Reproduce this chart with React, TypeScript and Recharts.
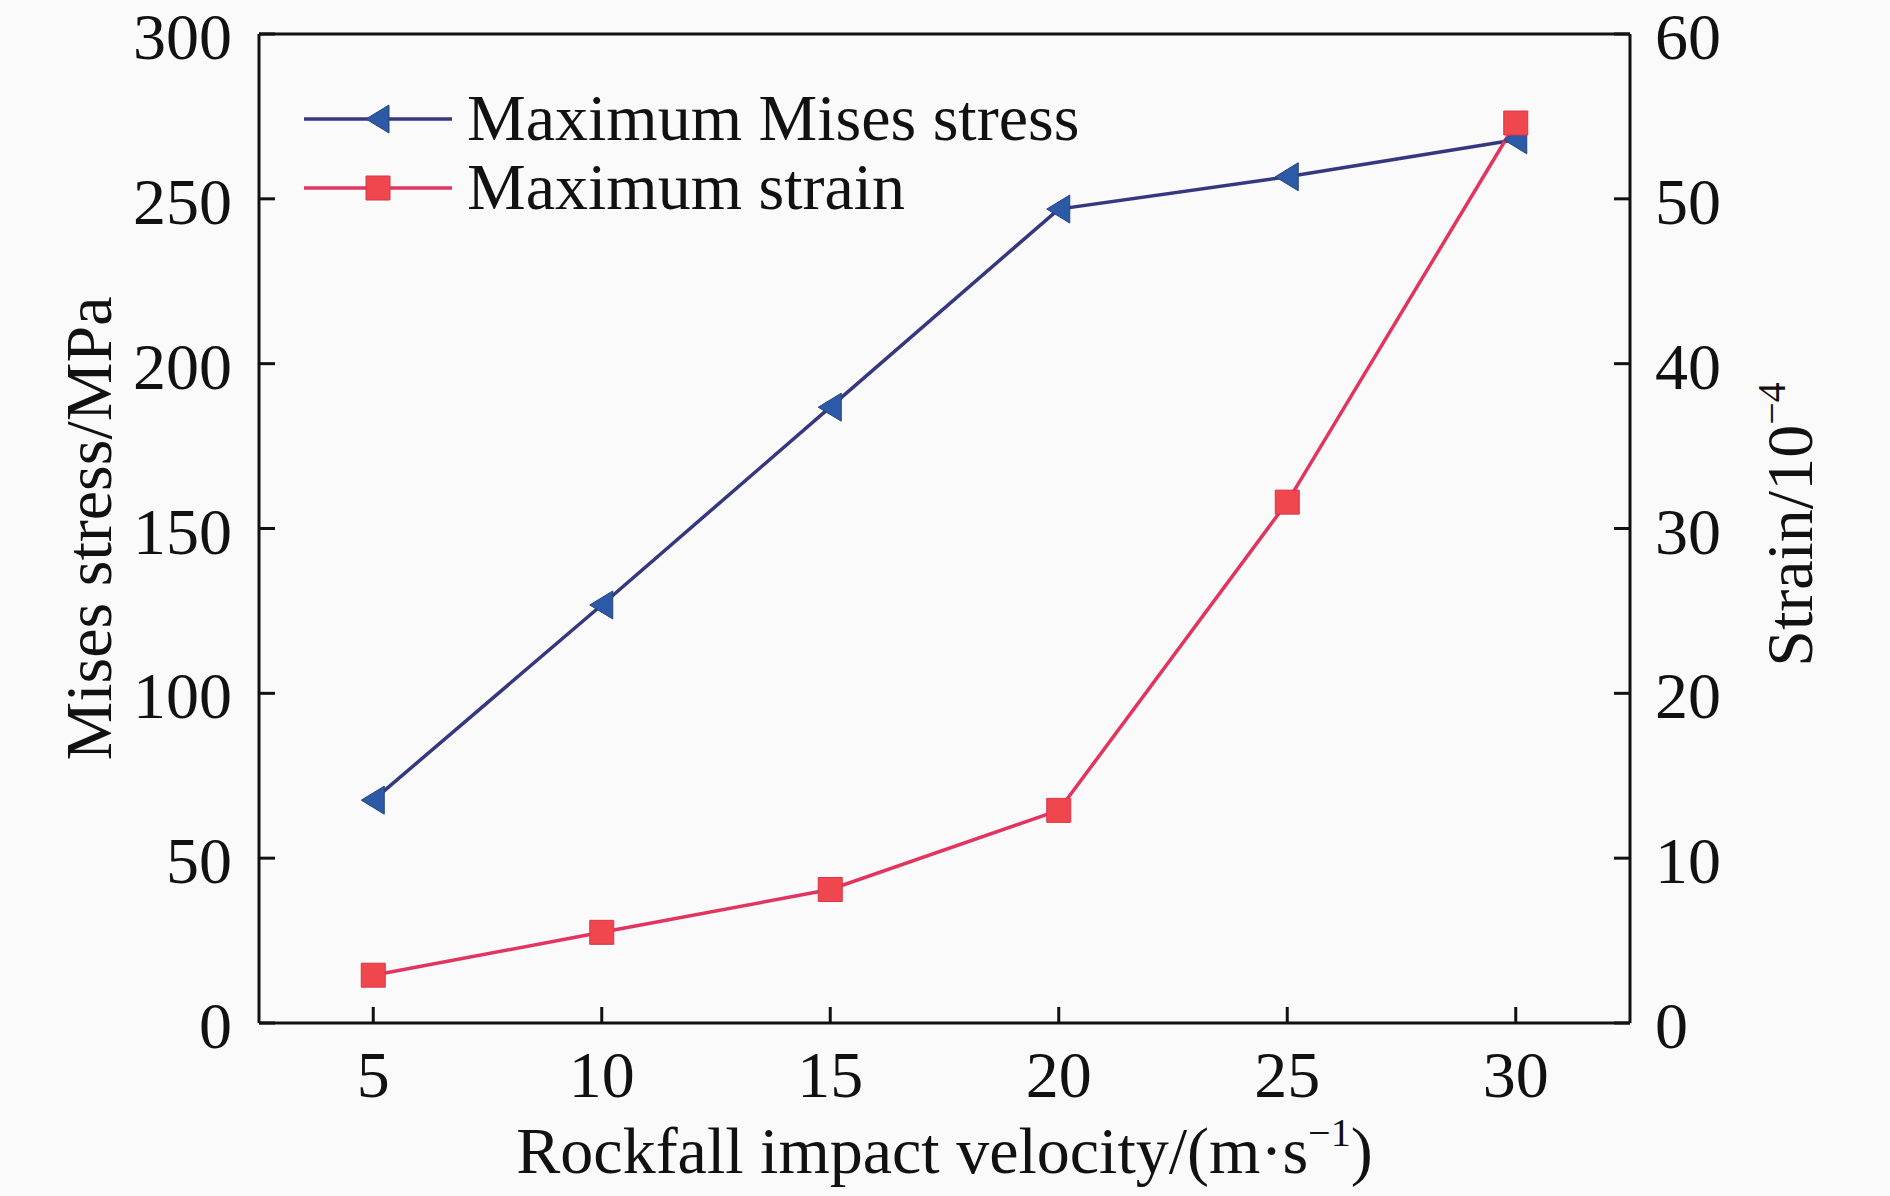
import React from 'react';
import { LineChart, Line, XAxis, YAxis, Legend, ReferenceLine } from 'recharts';

// values
const velocity = [5, 10, 15, 20, 25, 30];
const stressMPa = [67.6, 126.8, 186.8, 246.9, 256.7, 267.9];
const strain = [2.9, 5.5, 8.1, 12.9, 31.6, 54.6];

const xTicks = [5, 10, 15, 20, 25, 30];
const stressTicks = [0, 50, 100, 150, 200, 250, 300];
const strainTicks = [0, 10, 20, 30, 40, 50, 60];

const data = velocity.map((v, i) => ({ v, stress: stressMPa[i], strain: strain[i] }));

const FONT = "'Liberation Serif', 'Times New Roman', serif";
const FS = 66;
const AXIS = '#111';
const TICK_LEN = 16;

const STRESS_LINE = '#35387f';
const STRESS_FILL = '#2d5aa6';
const STRAIN_LINE = '#e2345f';
const STRAIN_FILL = '#f0474f';

const triPath = (cx: number, cy: number) =>
  `M${cx - 12},${cy} L${cx + 11},${cy - 14} L${cx + 11},${cy + 14} Z`;
const sqPath = (cx: number, cy: number) =>
  `M${cx - 12},${cy - 12} h24 v24 h-24 Z`;

const renderTri = (p: any) => (
  <path key={`tri-${p.index}`} d={triPath(p.cx, p.cy)} fill={STRESS_FILL} stroke="#22457c" strokeWidth={1} />
);
const renderSq = (p: any) => (
  <path key={`sq-${p.index}`} d={sqPath(p.cx, p.cy)} fill={STRAIN_FILL} stroke="#d8364a" strokeWidth={1} />
);

// ticks point inward, labels outside
const LEFT_MARGIN = 27;
const RIGHT_MARGIN = 25;
const BOTTOM_MARGIN = 46;

const LeftTick = (props: any) => {
  const { x, y, payload } = props;
  const ax = x + LEFT_MARGIN;
  return (
    <g>
      <line x1={ax} x2={ax + TICK_LEN} y1={y} y2={y} stroke={AXIS} strokeWidth={3} />
      <text x={x} y={y + 25} textAnchor="end" fontFamily={FONT} fontSize={FS} fill="#111">
        {payload.value}
      </text>
    </g>
  );
};

const RightTick = (props: any) => {
  const { x, y, payload } = props;
  const ax = x - RIGHT_MARGIN;
  return (
    <g>
      <line x1={ax} x2={ax - TICK_LEN} y1={y} y2={y} stroke={AXIS} strokeWidth={3} />
      <text x={x} y={y + 25} textAnchor="start" fontFamily={FONT} fontSize={FS} fill="#111">
        {payload.value}
      </text>
    </g>
  );
};

const BottomTick = (props: any) => {
  const { x, y, payload } = props;
  const ay = y - BOTTOM_MARGIN;
  return (
    <g>
      <line x1={x} x2={x} y1={ay} y2={ay - TICK_LEN} stroke={AXIS} strokeWidth={3} />
      <text x={x} y={ay + 74} textAnchor="middle" fontFamily={FONT} fontSize={FS} fill="#111">
        {payload.value}
      </text>
    </g>
  );
};

const XTitle = (props: any) => {
  const vb = props.viewBox;
  return (
    <text x={vb.x + vb.width / 2} y={vb.y + 150} textAnchor="middle" fontFamily={FONT} fontSize={FS} fill="#111">
      Rockfall impact velocity/(m·s
      <tspan fontSize={40} dy={-27}>−1</tspan>
      <tspan dy={27}>)</tspan>
    </text>
  );
};

const LeftTitle = (props: any) => {
  const vb = props.viewBox;
  const x = vb.x + 111;
  const y = vb.y + vb.height / 2;
  return (
    <text x={x} y={y} transform={`rotate(-90, ${x}, ${y})`} textAnchor="middle" fontFamily={FONT} fontSize={FS} fill="#111">
      Mises stress/MPa
    </text>
  );
};

const RightTitle = (props: any) => {
  const vb = props.viewBox;
  const x = vb.x + 182;
  const y = vb.y + vb.height / 2 - 4;
  return (
    <text x={x} y={y} transform={`rotate(-90, ${x}, ${y})`} textAnchor="middle" fontFamily={FONT} fontSize={FS} fill="#111">
      Strain/10
      <tspan fontSize={40} dy={-27}>−4</tspan>
    </text>
  );
};

const renderLegend = (props: any) => {
  const items = props.payload || [];
  return (
    <svg width={720} height={170} style={{ overflow: 'visible', display: 'block' }}>
      {items.map((item: any, i: number) => {
        const cy = 49 + i * 69;
        const isStress = item.dataKey === 'stress';
        return (
          <g key={item.value}>
            <line x1={14} x2={162} y1={cy} y2={cy} stroke={isStress ? STRESS_LINE : STRAIN_LINE} strokeWidth={3.5} />
            {isStress ? (
              <path d={triPath(88, cy)} fill={STRESS_FILL} stroke="#22457c" strokeWidth={1} />
            ) : (
              <path d={sqPath(88, cy)} fill={STRAIN_FILL} stroke="#d8364a" strokeWidth={1} />
            )}
            <text x={177} y={cy + 21} fontFamily={FONT} fontSize={FS} fill="#111">
              {item.value}
            </text>
          </g>
        );
      })}
    </svg>
  );
};

export default function App() {
  return (
    <div style={{ position: 'absolute', left: 0, top: 0, width: 1890, height: 1196, background: '#fafafa' }}>
      <LineChart width={1890} height={1196} data={data} margin={{ top: 34, right: 0, bottom: 0, left: 0 }}>
        <XAxis
          dataKey="v"
          type="number"
          domain={[2.5, 32.5]}
          ticks={xTicks}
          height={173}
          tickSize={0}
          tickMargin={BOTTOM_MARGIN}
          tickLine={false}
          tick={BottomTick}
          axisLine={{ stroke: AXIS, strokeWidth: 3 }}
          allowDataOverflow
          label={{ content: XTitle }}
        />
        <YAxis
          yAxisId="left"
          domain={[0, 300]}
          ticks={stressTicks}
          width={259}
          tickSize={0}
          tickMargin={LEFT_MARGIN}
          tickLine={false}
          tick={LeftTick}
          axisLine={{ stroke: AXIS, strokeWidth: 3 }}
          allowDataOverflow
          label={{ content: LeftTitle }}
        />
        <YAxis
          yAxisId="right"
          orientation="right"
          domain={[0, 60]}
          ticks={strainTicks}
          width={260}
          tickSize={0}
          tickMargin={RIGHT_MARGIN}
          tickLine={false}
          tick={RightTick}
          axisLine={{ stroke: AXIS, strokeWidth: 3 }}
          allowDataOverflow
          label={{ content: RightTitle }}
        />
        <ReferenceLine yAxisId="left" y={300} stroke={AXIS} strokeWidth={3} />
        <Legend
          layout="horizontal"
          verticalAlign="middle"
          align="center"
          wrapperStyle={{ left: 290, top: 70, width: 720, height: 170 }}
          content={renderLegend}
        />
        <Line
          yAxisId="left"
          dataKey="stress"
          name="Maximum Mises stress"
          stroke={STRESS_LINE}
          strokeWidth={3.5}
          dot={renderTri}
          activeDot={false}
          isAnimationActive={false}
        />
        <Line
          yAxisId="right"
          dataKey="strain"
          name="Maximum strain"
          stroke={STRAIN_LINE}
          strokeWidth={3.5}
          dot={renderSq}
          activeDot={false}
          isAnimationActive={false}
        />
      </LineChart>
    </div>
  );
}
